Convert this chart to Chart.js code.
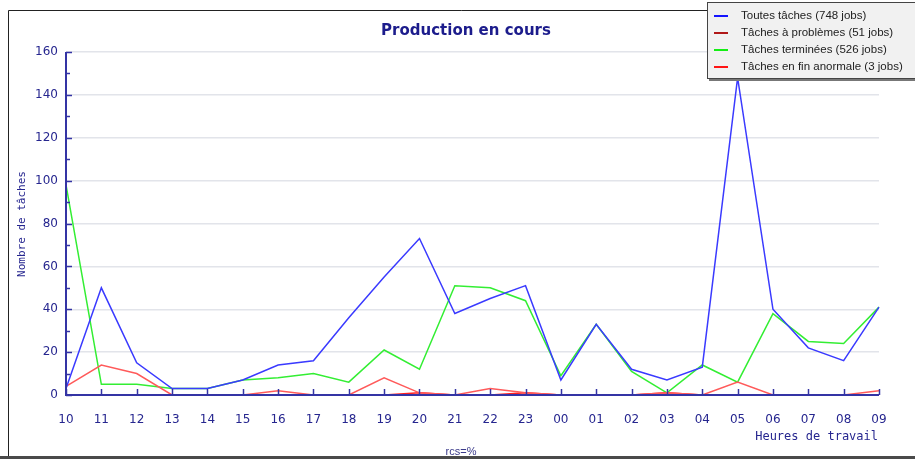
<!DOCTYPE html>
<html>
<head>
<meta charset="utf-8">
<script src="https://cdn.jsdelivr.net/npm/chart.js@4.4.0/dist/chart.umd.min.js"></script>
<style>
  html, body { margin: 0; padding: 0; background: #fff; }
</style>
</head>
<body>
<canvas id="prodChart" width="915" height="459"></canvas>
<script>
// Heures (10h -> 09h le lendemain)
const hours = ['10','11','12','13','14','15','16','17','18','19','20','21','22','23','00','01','02','03','04','05','06','07','08','09'];

// Series
const toutes     = [3, 50, 15, 3, 3, 7, 14, 16, 36, 55, 73, 38, 45, 51, 7, 33, 12, 7, 13, 148, 40, 22, 16, 41];
const problemes  = [4, 14, 10, 0, 0, 0, 2, 0, 0, 8, 1, 0, 3, 1, 0, 0, 0, 1, 0, 6, 0, 0, 0, 2];
const terminees  = [98, 5, 5, 3, 3, 7, 8, 10, 6, 21, 12, 51, 50, 44, 9, 33, 11, 1, 14, 6, 38, 25, 24, 41];
const anormales  = [0, 0, 0, 0, 0, 0, 0, 0, 0, 0, 1, 0, 0, 1, 0, 0, 0, 1, 0, 0, 0, 0, 0, 0];

const seriesLabels = ['Toutes tâches (748 jobs)', 'Tâches à problèmes (51 jobs)', 'Tâches terminées (526 jobs)', 'Tâches en fin anormale (3 jobs)'];
const yMin = 0, yMax = 160, yStep = 20;

// styles
const lineColors = ['#3a3aff', '#ff5a5a', '#33ee33', '#ff2020'];
const legendColors = ['#1414ff', '#b01818', '#14ee14', '#ff1414'];
const axisColor = '#3434a4';
const textColor = '#26268f';

// frame, legend box, titles and axis marks drawn on top
const decorPlugin = {
  id: 'decor',
  beforeDraw(chart) {
    const c = chart.ctx;
    c.save();
    c.fillStyle = '#fff';
    c.fillRect(0, 0, chart.width, chart.height);
    c.restore();
  },
  afterDatasetsDraw(chart) {
    const c = chart.ctx;
    const x = chart.scales.x, y = chart.scales.y;
    const a = chart.chartArea;
    c.save();
    c.strokeStyle = axisColor;
    c.lineWidth = 2;
    c.beginPath();
    c.moveTo(a.left, a.top);
    c.lineTo(a.left, a.bottom);
    c.lineTo(a.right, a.bottom);
    c.stroke();
    c.lineWidth = 1.5;
    // x ticks pointing up
    x.ticks.forEach((t, i) => {
      const px = Math.round(x.getPixelForTick(i)) + 0.5;
      c.beginPath();
      c.moveTo(px, a.bottom);
      c.lineTo(px, a.bottom - 6);
      c.stroke();
    });
    // y ticks (major + minor) pointing right
    for (let v = yMin; v <= yMax; v += yStep / 2) {
      const py = Math.round(y.getPixelForValue(v)) + 0.5;
      const len = (v % yStep === 0) ? 6 : 4;
      c.beginPath();
      c.moveTo(a.left, py);
      c.lineTo(a.left + len, py);
      c.stroke();
    }
    c.restore();
  },
  afterDraw(chart) {
    const c = chart.ctx;
    c.save();
    // outer frame
    c.strokeStyle = '#222';
    c.lineWidth = 1;
    c.beginPath();
    c.moveTo(8.5, 456);
    c.lineTo(8.5, 10.5);
    c.lineTo(915, 10.5);
    c.stroke();
    c.fillStyle = '#4a4a4a';
    c.fillRect(0, 456, 915, 3);

    // title
    c.fillStyle = '#1c1c8c';
    c.font = 'bold 15px "DejaVu Sans", Verdana, sans-serif';
    c.textAlign = 'center';
    c.textBaseline = 'middle';
    c.fillText('Production en cours', 466, 31);

    // axis titles
    c.fillStyle = textColor;
    c.font = '12px "DejaVu Sans Mono", monospace';
    c.textAlign = 'right';
    c.fillText('Heures de travail', 878, 437);
    c.save();
    c.translate(22, 224);
    c.rotate(-Math.PI / 2);
    c.textAlign = 'center';
    c.font = '11px "DejaVu Sans Mono", monospace';
    c.fillText('Nombre de tâches', 0, 0);
    c.restore();
    c.fillStyle = '#3a3a8a';
    c.font = '11px "Liberation Sans", Arial, sans-serif';
    c.textAlign = 'center';
    c.fillText('rcs=%', 461, 452);

    // legend box
    const bx = 707, by = 2, bw = 210, bh = 76;
    c.fillStyle = '#777';
    c.fillRect(bx + 2, by + bh, bw, 3);
    c.fillStyle = '#f1f1f1';
    c.fillRect(bx, by, bw, bh);
    c.strokeStyle = '#444';
    c.lineWidth = 1;
    c.strokeRect(bx + 0.5, by + 0.5, bw, bh);
    c.font = '11.5px "Liberation Sans", Arial, sans-serif';
    c.textAlign = 'left';
    chart.data.datasets.forEach((ds, i) => {
      const ry = 16 + i * 17;
      c.strokeStyle = legendColors[i];
      c.lineWidth = 2;
      c.beginPath();
      c.moveTo(714, ry);
      c.lineTo(728, ry);
      c.stroke();
      c.fillStyle = '#222';
      c.fillText(ds.label, 741, ry);
    });
    c.restore();
  }
};

const datasets = [toutes, problemes, terminees, anormales].map((d, i) => ({
  label: seriesLabels[i],
  data: d,
  borderColor: lineColors[i],
  backgroundColor: lineColors[i],
  borderWidth: 1.5,
  pointRadius: 0,
  tension: 0,
  fill: false
}));

const ctx = document.getElementById('prodChart').getContext('2d');
const prodChart = new Chart(ctx, {
  type: 'line',
  data: { labels: hours, datasets: datasets },
  options: {
    responsive: false,
    devicePixelRatio: 1,
    animation: false,
    layout: { padding: { top: 52, right: 36, left: 0, bottom: 0 } },
    plugins: {
      legend: { display: false },
      title: { display: false },
      tooltip: { enabled: false }
    },
    scales: {
      x: {
        type: 'category',
        offset: false,
        grid: { display: false },
        border: { display: false },
        ticks: {
          color: textColor,
          font: { family: '"DejaVu Sans", sans-serif', size: 12 },
          padding: 10,
          autoSkip: false,
          maxRotation: 0
        },
        afterFit(s) { s.height = 64; }
      },
      y: {
        min: yMin,
        max: yMax,
        grid: { color: '#e2e4ea', lineWidth: 1.5, drawTicks: false },
        border: { display: false },
        ticks: {
          stepSize: yStep,
          color: textColor,
          font: { family: '"DejaVu Sans", sans-serif', size: 12 },
          padding: 8
        },
        afterFit(s) { s.width = 66; }
      }
    }
  },
  plugins: [decorPlugin]
});
</script>
</body>
</html>
